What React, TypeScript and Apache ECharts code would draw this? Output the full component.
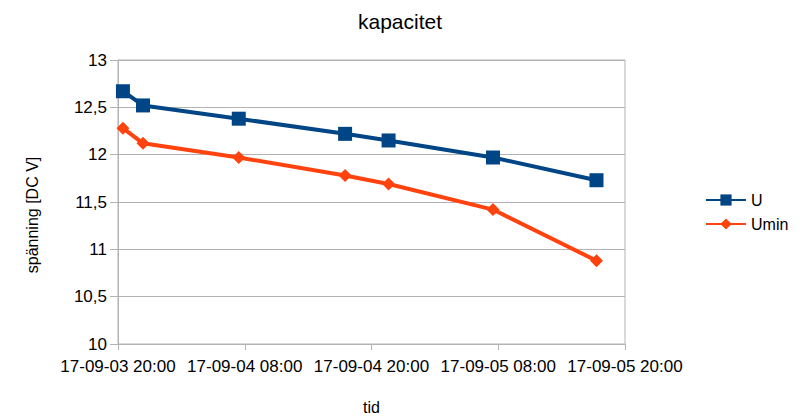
import { useEffect, useRef } from 'react';
import * as echarts from 'echarts';

// 48 h window, ticks every 12 h
const tickLabels = [
  '17-09-03 20:00',
  '17-09-04 08:00',
  '17-09-04 20:00',
  '17-09-05 08:00',
  '17-09-05 20:00',
];
const startTime = '2017-09-03 20:00';

const times = [
  '2017-09-03 20:28',
  '2017-09-03 22:22',
  '2017-09-04 07:26',
  '2017-09-04 17:30',
  '2017-09-04 21:37',
  '2017-09-05 07:30',
  '2017-09-05 17:18',
];
const uValues = [12.67, 12.52, 12.38, 12.22, 12.15, 11.97, 11.73];
const uminValues = [12.28, 12.12, 11.97, 11.78, 11.69, 11.42, 10.88];

const BLUE = '#004586';
const ORANGE = '#ff420e';
const GRID = '#b3b3b3';
const FONT = 'Liberation Sans';

const toMs = (s: string) => {
  const [d, t] = s.split(' ');
  const [y, mo, da] = d.split('-').map(Number);
  const [h, mi] = t.split(':').map(Number);
  return Date.UTC(y, mo - 1, da, h, mi);
};
const hoursFromStart = (s: string) => (toMs(s) - toMs(startTime)) / 3600000;

export default function App() {
  const ref = useRef<HTMLDivElement | null>(null);

  useEffect(() => {
    if (!ref.current) return;
    document.body.style.margin = '0';
    const chart = echarts.init(ref.current, undefined, { renderer: 'svg' });

    const xs = times.map(hoursFromStart);

    chart.setOption({
      animation: false,
      backgroundColor: '#fff',
      textStyle: { fontFamily: FONT },
      title: {
        text: 'kapacitet',
        left: 'center',
        top: 6,
        textStyle: { fontSize: 21, fontWeight: 'normal', color: '#000', fontFamily: FONT },
      },
      grid: {
        left: 118,
        right: 175,
        top: 60,
        bottom: 71,
        show: true,
        borderColor: GRID,
        borderWidth: 1,
      },
      legend: {
        orient: 'vertical',
        left: 700,
        top: 187,
        itemWidth: 40,
        itemHeight: 14,
        itemGap: 8,
        textStyle: { fontSize: 16, color: '#000', fontFamily: FONT },
        data: ['U', 'Umin'],
      },
      // rotated y-axis title, sits a bit below the plot's centre like the original
      graphic: [
        {
          type: 'text',
          x: 32,
          y: 215,
          rotation: Math.PI / 2,
          style: {
            text: 'spänning [DC V]',
            fontSize: 16,
            fontFamily: FONT,
            fill: '#000',
            align: 'center',
            verticalAlign: 'middle',
          },
        },
      ],
      xAxis: {
        type: 'value',
        min: 0,
        max: 48,
        interval: 12,
        name: 'tid',
        nameLocation: 'middle',
        nameGap: 55,
        nameTextStyle: { fontSize: 16, color: '#000', fontFamily: FONT },
        axisLine: { lineStyle: { color: GRID } },
        axisTick: { show: true, length: 6, lineStyle: { color: GRID } },
        splitLine: { show: false },
        axisLabel: {
          color: '#000',
          fontSize: 17,
          fontFamily: FONT,
          margin: 14,
          formatter: (v: number) => tickLabels[Math.round(v / 12)] ?? '',
        },
      },
      yAxis: {
        type: 'value',
        min: 10,
        max: 13,
        interval: 0.5,
        axisLine: { show: true, lineStyle: { color: GRID } },
        axisTick: { show: true, length: 8, lineStyle: { color: GRID } },
        splitLine: { lineStyle: { color: GRID } },
        axisLabel: {
          color: '#000',
          fontSize: 17,
          fontFamily: FONT,
          margin: 11,
          formatter: (v: number) => String(v).replace('.', ','),
        },
      },
      series: [
        {
          name: 'U',
          type: 'line',
          symbol: 'rect',
          symbolSize: 14,
          color: BLUE,
          lineStyle: { color: BLUE, width: 4 },
          itemStyle: { color: BLUE },
          data: xs.map((x, i) => [x, uValues[i]]),
        },
        {
          name: 'Umin',
          type: 'line',
          symbol: 'diamond',
          symbolSize: 13,
          color: ORANGE,
          lineStyle: { color: ORANGE, width: 4 },
          itemStyle: { color: ORANGE },
          data: xs.map((x, i) => [x, uminValues[i]]),
        },
      ],
    });

    return () => chart.dispose();
  }, []);

  return <div ref={ref} style={{ width: 800, height: 420 }} />;
}
